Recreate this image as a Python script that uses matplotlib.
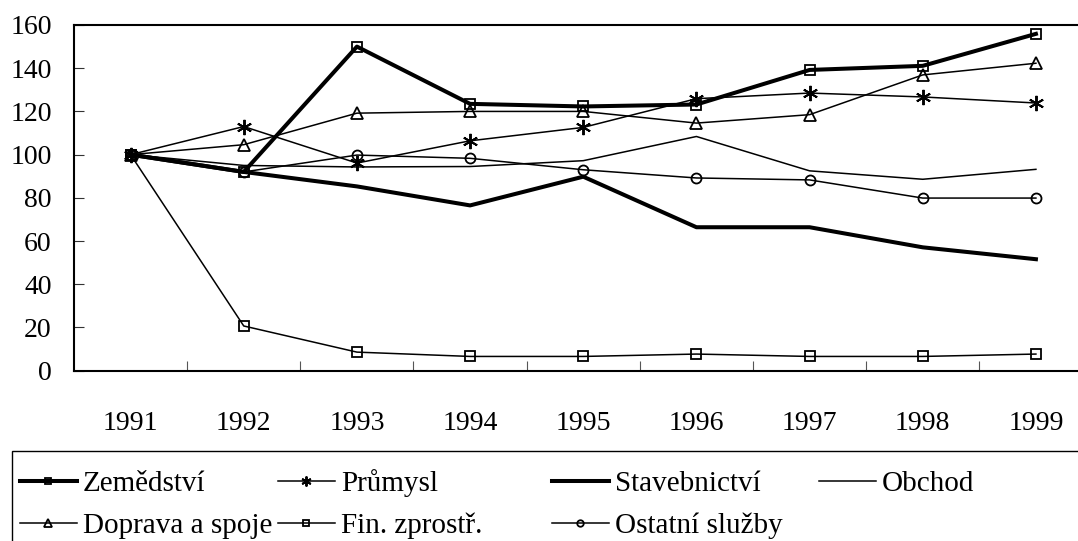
import matplotlib.pyplot as plt
from matplotlib.patches import Rectangle

plt.rcParams['font.family'] = ['Liberation Serif', 'DejaVu Serif']

# Index vývoje podle odvětví (1991 = 100)
years = ["1991", "1992", "1993", "1994", "1995", "1996", "1997", "1998", "1999"]
zemedelstvi = [100, 92, 150, 123.5, 122.3, 123.2, 139.2, 141.1, 155.9]
prumysl = [100, 113.0, 96.1, 106.4, 112.6, 125.9, 128.5, 126.7, 123.9]
stavebnictvi = [100, 92, 85.3, 76.5, 89.8, 66.4, 66.4, 57.1, 51.6]
obchod = [100, 95.0, 94.3, 94.5, 97.2, 108.4, 92.5, 88.6, 93.2]
doprava = [100, 104.6, 119.2, 120, 120, 114.6, 118.5, 136.9, 142.3]
fin_zprostr = [100, 20.7, 8.6, 6.6, 6.6, 7.7, 6.6, 6.6, 7.7]
ostatni = [100, 92, 99.8, 98.3, 93.0, 89.2, 88.3, 79.9, 79.9]

W, H = 1078, 541
fig = plt.figure(figsize=(W / 100, H / 100), dpi=100)
ax = fig.add_axes([74 / W, 1 - 370.7 / H, (1092.5 - 74) / W, (370.7 - 25) / H])

x = list(range(len(years)))
thick = 2.9
thin = 1.1
mk = dict(fillstyle='none', markeredgecolor='black', markeredgewidth=1.3)

l_zem, = ax.plot(x, zemedelstvi, color='black', lw=thick, marker='s', ms=7.6, **mk)
l_pru, = ax.plot(x, prumysl, color='black', lw=thin, marker=(6, 2, 0), ms=11, markeredgewidth=1.4)
l_sta, = ax.plot(x, stavebnictvi, color='black', lw=thick)
l_obc, = ax.plot(x, obchod, color='black', lw=thin)
l_dop, = ax.plot(x, doprava, color='black', lw=thin, marker='^', ms=9, **mk)
l_fin, = ax.plot(x, fin_zprostr, color='black', lw=thin, marker='s', ms=7.6, **mk)
l_ost, = ax.plot(x, ostatni, color='black', lw=thin, marker='o', ms=7.2, **mk)

ax.set_xlim(-0.5, len(years) - 0.5)
ax.set_ylim(0, 160)
ax.set_yticks(range(0, 161, 20))

# tick marks between categories, labels at category centres
ax.set_xticks([i + 0.5 for i in range(len(years))])
ax.set_xticklabels([])
ax.set_xticks(x, minor=True)
ax.set_xticklabels(years, minor=True)
ax.tick_params(axis='x', which='major', direction='in', length=7, width=0.8, color='#555555')
ax.tick_params(axis='x', which='minor', length=0, pad=29, labelsize=20)
ax.tick_params(axis='y', direction='in', length=7, width=0.8, color='#333333', pad=16, labelsize=20)

for s in ['left', 'bottom', 'top']:
    ax.spines[s].set_linewidth(1.5)
ax.spines['right'].set_visible(False)

# legend entries placed like the original (two rows), inside one frame
entries = [(l_zem, "Zemědství", 20, 497), (l_pru, "Průmysl", 278, 497),
           (l_sta, "Stavebnictví", 552, 497), (l_obc, "Obchod", 819, 497),
           (l_dop, "Doprava a spoje", 20, 539), (l_fin, "Fin. zprostř.", 278, 539),
           (l_ost, "Ostatní služby", 552, 539)]
for handle, label, xpx, ypx in entries:
    fig.legend([handle], [label], loc='lower left', bbox_to_anchor=(xpx / W, 1 - ypx / H),
               frameon=False, borderpad=0, borderaxespad=0, fontsize=21,
               handlelength=1.95, handletextpad=0.2, markerscale=0.65)

fig.patches.append(Rectangle((12 / W, -0.1), 1.0, (541 - 451) / H + 0.1,
                             transform=fig.transFigure, fill=False, lw=1.0, edgecolor='black'))

fig.savefig('out.png', dpi=100)
